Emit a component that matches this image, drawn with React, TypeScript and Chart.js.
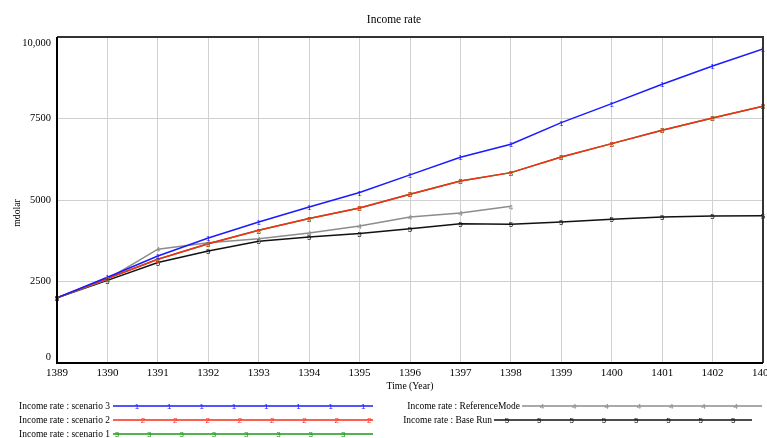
import React, { useEffect, useRef } from "react";
import { Chart, registerables } from "chart.js";

Chart.register(...registerables);

const years = [1389, 1390, 1391, 1392, 1393, 1394, 1395, 1396, 1397, 1398, 1399, 1400, 1401, 1402, 1403];
const scenario3 = [2000, 2630, 3280, 3835, 4325, 4785, 5230, 5770, 6310, 6710, 7375, 7957, 8550, 9110, 9630];
const scenario2 = [2000, 2590, 3180, 3660, 4070, 4430, 4755, 5175, 5580, 5840, 6320, 6730, 7140, 7515, 7880];
const scenario1 = [2000, 2590, 3180, 3660, 4070, 4430, 4755, 5175, 5580, 5840, 6320, 6730, 7140, 7515, 7880];
const referenceMode = [2000, 2570, 3490, 3690, 3815, 3990, 4200, 4480, 4600, 4805];
const baseRun = [2000, 2535, 3080, 3435, 3735, 3865, 3970, 4120, 4275, 4255, 4325, 4410, 4480, 4510, 4520];
const yTicks = [0, 2500, 5000, 7500, 10000];
const yTickLabels = ["0", "2500", "5000", "7500", "10,000"];

const seriesNames = [
  "Income rate : scenario 3",
  "Income rate : scenario 2",
  "Income rate : scenario 1",
  "Income rate : ReferenceMode",
  "Income rate : Base Run",
];
const seriesColors = ["#1a1aff", "#ff2a1a", "#1a9a1a", "#8c8c8c", "#111111"];
const seriesMarks = ["1", "2", "3", "4", "5"];
const seriesData = [scenario3, scenario2, scenario1, referenceMode, baseRun];

const SERIF = "'Liberation Serif', 'Times New Roman', serif";
const MARK_FONT = "8px 'Liberation Sans', Arial, sans-serif";

function condensedText(
  ctx: CanvasRenderingContext2D,
  text: string,
  x: number,
  y: number,
  align: "left" | "right" | "center",
  sx: number
) {
  ctx.save();
  ctx.translate(x, y);
  ctx.scale(sx, 1);
  ctx.textAlign = align;
  ctx.fillText(text, 0, 0);
  ctx.restore();
}

export default function App() {
  const ref = useRef<HTMLCanvasElement | null>(null);

  useEffect(() => {
    document.body.style.margin = "0";
    const canvas = ref.current;
    if (!canvas) return;

    const markerPlugin = {
      id: "markers",
      afterDatasetsDraw(chart: any) {
        const ctx = chart.ctx;
        ctx.save();
        ctx.font = MARK_FONT;
        ctx.textAlign = "center";
        ctx.textBaseline = "middle";
        for (let i = chart.data.datasets.length - 1; i >= 0; i--) {
          const meta = chart.getDatasetMeta(i);
          ctx.fillStyle = seriesColors[i];
          meta.data.forEach((pt: any) => {
            ctx.fillText(seriesMarks[i], pt.x, pt.y + 1);
          });
        }
        ctx.restore();
      },
    };

    const decorPlugin = {
      id: "decor",
      afterDraw(chart: any) {
        const ctx = chart.ctx;
        const a = chart.chartArea;
        ctx.save();
        // frame
        ctx.strokeStyle = "#333";
        ctx.lineWidth = 2;
        ctx.beginPath();
        ctx.moveTo(a.left, a.top);
        ctx.lineTo(a.right, a.top);
        ctx.lineTo(a.right, a.bottom);
        ctx.stroke();
        ctx.strokeStyle = "#000";
        ctx.beginPath();
        ctx.moveTo(a.left, a.top);
        ctx.lineTo(a.left, a.bottom);
        ctx.lineTo(a.right, a.bottom);
        ctx.stroke();

        ctx.fillStyle = "#000";
        ctx.textBaseline = "middle";
        // y tick labels (end labels kept inside the frame)
        const ys = chart.scales.y;
        ctx.font = `11px ${SERIF}`;
        yTicks.forEach((v, k) => {
          let py = ys.getPixelForValue(v);
          py = Math.min(Math.max(py, a.top + 6), a.bottom - 6);
          condensedText(ctx, yTickLabels[k], a.left - 6, py, "right", 0.95);
        });
        // title
        ctx.font = `13px ${SERIF}`;
        condensedText(ctx, "Income rate", 394, 20, "center", 0.88);
        // x title
        ctx.font = `11px ${SERIF}`;
        condensedText(ctx, "Time (Year)", (a.left + a.right) / 2, 386, "center", 0.88);
        // y title
        ctx.save();
        ctx.translate(17, 213);
        ctx.rotate(-Math.PI / 2);
        condensedText(ctx, "mdolar", 0, 0, "center", 0.88);
        ctx.restore();

        // legend
        const rows = [
          { i: 0, tx: 110, x0: 113, x1: 373, y: 406, m0: 137 },
          { i: 1, tx: 110, x0: 113, x1: 373, y: 420, m0: 143 },
          { i: 2, tx: 110, x0: 113, x1: 373, y: 434, m0: 117 },
          { i: 3, tx: 520, x0: 522, x1: 762, y: 406, m0: 542 },
          { i: 4, tx: 492, x0: 494, x1: 752, y: 420, m0: 507 },
        ];
        rows.forEach((r) => {
          ctx.fillStyle = "#000";
          ctx.font = `11px ${SERIF}`;
          condensedText(ctx, seriesNames[r.i], r.tx, r.y, "right", 0.86);
          ctx.strokeStyle = seriesColors[r.i];
          ctx.lineWidth = 1.5;
          ctx.beginPath();
          ctx.moveTo(r.x0, r.y);
          ctx.lineTo(r.x1, r.y);
          ctx.stroke();
          ctx.fillStyle = seriesColors[r.i];
          ctx.font = MARK_FONT;
          ctx.textAlign = "center";
          for (let k = 0; k < 8; k++) {
            const mx = r.m0 + k * 32.3;
            if (mx < r.x1 + 2) ctx.fillText(seriesMarks[r.i], mx, r.y + 1);
          }
        });
        ctx.restore();
      },
    };

    const datasets = seriesData.map((arr, i) => ({
      label: seriesNames[i],
      data: arr.map((v, j) => ({ x: years[j], y: v })),
      borderColor: seriesColors[i],
      backgroundColor: seriesColors[i],
      borderWidth: 1.5,
      pointRadius: 0,
      tension: 0,
      fill: false,
    }));

    const chart = new Chart(canvas, {
      type: "line",
      data: { datasets },
      options: {
        responsive: false,
        animation: false,
        devicePixelRatio: 1,
        layout: { padding: { top: 37, left: 0, right: 4, bottom: 55 } },
        plugins: {
          legend: { display: false },
          title: { display: false },
          tooltip: { enabled: false },
        },
        scales: {
          x: {
            type: "linear",
            min: years[0],
            max: years[years.length - 1],
            afterBuildTicks(scale: any) {
              scale.ticks = years.map((v) => ({ value: v }));
            },
            afterFit(scale: any) {
              scale.height = 20;
              scale.paddingLeft = 0;
              scale.paddingRight = 0;
            },
            grid: { color: "#d0d0d0", lineWidth: 1, drawTicks: false },
            border: { display: false },
            ticks: {
              padding: 4,
              color: "#000",
              font: { family: SERIF, size: 11 },
              maxRotation: 0,
              autoSkip: false,
              callback: (v: any) => String(v),
            },
          },
          y: {
            type: "linear",
            min: 0,
            max: 10000,
            afterBuildTicks(scale: any) {
              scale.ticks = yTicks.map((v) => ({ value: v }));
            },
            afterFit(scale: any) {
              scale.width = 57;
            },
            grid: { color: "#d0d0d0", lineWidth: 1, drawTicks: false },
            border: { display: false },
            ticks: { display: false },
          },
        },
      },
      plugins: [markerPlugin, decorPlugin],
    } as any);

    return () => chart.destroy();
  }, []);

  return (
    <div style={{ width: 767, height: 438 }}>
      <canvas ref={ref} width={767} height={438} style={{ display: "block" }} />
    </div>
  );
}
